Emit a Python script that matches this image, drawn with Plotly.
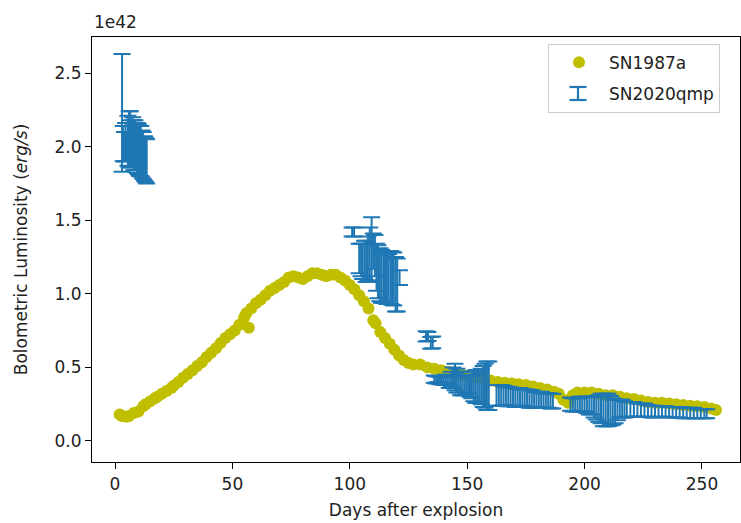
import plotly.graph_objects as go

# SN1987a bolometric light curve (units of 1e42 erg/s)
sn87_days = [2, 3, 5, 6, 8, 10, 12, 13, 15, 17, 18, 20, 22, 24, 25, 27, 29, 31, 33, 35,
             37, 39, 41, 43, 45, 47, 49, 51, 53, 55, 56, 57, 58, 60, 62, 64, 66, 68, 70, 72,
             74, 76, 78, 80, 82, 84, 86, 88, 90, 92, 94, 96, 98, 100, 102, 104, 106, 108, 110, 111,
             113, 115, 117, 119, 121, 123, 125, 127, 130, 133, 136, 139, 142, 145, 148, 151, 154, 157, 160, 163,
             166, 169, 172, 175, 178, 181, 184, 187, 189, 191, 193, 195, 197, 200, 203, 206, 209, 212, 215, 218,
             221, 224, 227, 230, 233, 236, 239, 242, 245, 248, 251, 254, 256]
sn87_lum = [0.18, 0.17, 0.165, 0.17, 0.19, 0.20, 0.235, 0.25, 0.27, 0.29, 0.30, 0.32, 0.34, 0.36, 0.375, 0.40, 0.43, 0.455, 0.48, 0.51,
            0.535, 0.57, 0.60, 0.63, 0.665, 0.70, 0.725, 0.75, 0.79, 0.84, 0.87, 0.77, 0.90, 0.935, 0.96, 0.99, 1.02, 1.04, 1.06, 1.08,
            1.11, 1.12, 1.11, 1.10, 1.12, 1.14, 1.14, 1.13, 1.12, 1.13, 1.13, 1.11, 1.09, 1.06, 1.03, 0.99, 0.95, 0.90, 0.82, 0.80,
            0.74, 0.70, 0.66, 0.62, 0.58, 0.55, 0.53, 0.52, 0.52, 0.50, 0.49, 0.48, 0.47, 0.46, 0.45, 0.44, 0.43, 0.42, 0.41, 0.40,
            0.395, 0.39, 0.385, 0.38, 0.37, 0.36, 0.35, 0.335, 0.32, 0.28, 0.26, 0.31, 0.33, 0.33, 0.33, 0.32, 0.31, 0.31, 0.30, 0.29,
            0.285, 0.275, 0.265, 0.26, 0.26, 0.255, 0.25, 0.245, 0.24, 0.235, 0.23, 0.22, 0.21]

# SN2020qmp bolometric luminosity with errors (units of 1e42 erg/s)
qmp_days = [3.0, 3.5, 4.0, 4.5, 5.0, 5.5, 6.0, 6.5, 7.0, 7.5, 8.0, 8.5, 9.0, 9.5, 10.0, 10.5, 11.0, 11.5, 12.0, 12.5, 13.0, 13.5,
            101.0, 101.8, 104.0, 104.8, 105.5, 106.3, 107.0, 107.7, 108.5, 109.3, 110.0, 110.7, 111.4, 112.0, 112.8,
            113.5, 114.3, 115.0, 115.8, 116.5, 117.3, 118.0, 118.7, 119.5, 120.2, 121.2,
            132.5, 133.3, 134.5, 135.3,
            136.0, 136.8, 137.6, 138.4, 139.2, 140.0, 140.8, 141.6, 142.4, 143.2, 144.0, 144.8, 145.6, 146.4, 147.2,
            148.0, 148.8, 149.6, 150.4, 151.2, 152.0, 152.8, 153.6, 154.4, 155.2, 156.0, 156.8, 157.6, 158.4, 159.2,
            162.5, 163.5, 164.5, 165.5, 166.5, 167.5, 168.5, 169.5, 170.5, 171.5, 172.5, 173.5, 174.5, 175.5, 176.5,
            177.5, 178.5, 179.5, 180.5, 181.5, 182.5, 183.5, 184.5, 185.5, 186.5,
            194.0, 195.0, 196.0, 197.0, 198.0, 199.0, 200.0, 201.0, 202.0, 203.0, 204.0, 205.0, 206.0, 207.0, 208.0,
            209.0, 210.0, 211.0, 212.0, 213.0, 214.0, 215.0, 216.0, 217.0, 218.0, 219.5, 221.0, 222.5, 224.0, 225.5,
            227.0, 228.5, 230.0, 231.5, 233.0, 234.5, 236.0, 237.5, 239.0, 240.5, 242.0, 243.5, 245.0, 246.5, 248.0,
            249.5, 251.0, 252.0]
qmp_lum = [2.23, 2.02, 2.00, 2.03, 2.00, 2.04, 2.05, 2.05, 2.02, 2.03, 2.01, 2.01, 2.00, 1.99, 1.98, 1.97, 1.97, 1.95, 1.94, 1.92, 1.91, 1.90,
           1.42, 1.42, 1.24, 1.23, 1.22, 1.23, 1.22, 1.24, 1.27, 1.30, 1.29, 1.26, 1.18, 1.15, 1.13,
           1.12, 1.11, 1.11, 1.10, 1.10, 1.11, 1.105, 1.10, 1.065, 1.06, 1.11,
           0.71, 0.71, 0.667, 0.67,
           0.42, 0.415, 0.42, 0.41, 0.415, 0.41, 0.42, 0.42, 0.40, 0.42, 0.43, 0.435, 0.41, 0.40, 0.39,
           0.39, 0.38, 0.38, 0.38, 0.37, 0.37, 0.37, 0.37, 0.37, 0.36, 0.37, 0.37, 0.375, 0.375, 0.375,
           0.31, 0.31, 0.31, 0.31, 0.305, 0.30, 0.30, 0.30, 0.295, 0.295, 0.30, 0.295, 0.29, 0.29, 0.285,
           0.285, 0.28, 0.28, 0.28, 0.28, 0.275, 0.275, 0.275, 0.27, 0.27,
           0.25, 0.245, 0.245, 0.245, 0.25, 0.25, 0.25, 0.245, 0.24, 0.24, 0.23, 0.225, 0.22, 0.22, 0.21,
           0.21, 0.21, 0.205, 0.20, 0.20, 0.21, 0.22, 0.22, 0.215, 0.215, 0.215, 0.215, 0.21, 0.21, 0.21,
           0.205, 0.20, 0.20, 0.20, 0.20, 0.20, 0.195, 0.195, 0.195, 0.195, 0.19, 0.19, 0.19, 0.19, 0.185,
           0.185, 0.185, 0.185]
qmp_err = [0.40, 0.12, 0.10, 0.13, 0.10, 0.17, 0.19, 0.19, 0.16, 0.17, 0.17, 0.17, 0.16, 0.17, 0.17, 0.17, 0.17, 0.16, 0.16, 0.15, 0.15, 0.15,
           0.03, 0.03, 0.10, 0.11, 0.12, 0.13, 0.14, 0.15, 0.18, 0.22, 0.12, 0.14, 0.16, 0.18, 0.18,
           0.18, 0.17, 0.17, 0.17, 0.17, 0.18, 0.18, 0.18, 0.185, 0.18, 0.05,
           0.035, 0.03, 0.04, 0.04,
           0.025, 0.025, 0.02, 0.025, 0.025, 0.03, 0.03, 0.03, 0.04, 0.05, 0.07, 0.09, 0.08, 0.07, 0.08,
           0.08, 0.07, 0.06, 0.06, 0.07, 0.08, 0.10, 0.11, 0.112, 0.10, 0.12, 0.14, 0.15, 0.165, 0.165,
           0.07, 0.07, 0.07, 0.065, 0.065, 0.065, 0.065, 0.06, 0.065, 0.06, 0.06, 0.055, 0.06, 0.06, 0.06,
           0.06, 0.055, 0.055, 0.05, 0.055, 0.05, 0.05, 0.05, 0.05, 0.05,
           0.045, 0.045, 0.045, 0.045, 0.05, 0.05, 0.05, 0.055, 0.06, 0.06, 0.07, 0.08, 0.09, 0.10, 0.11,
           0.11, 0.11, 0.10, 0.09, 0.08, 0.07, 0.06, 0.06, 0.055, 0.05, 0.05, 0.05, 0.045, 0.045, 0.045,
           0.04, 0.04, 0.04, 0.035, 0.035, 0.035, 0.035, 0.035, 0.035, 0.035, 0.035, 0.035, 0.035, 0.035, 0.03,
           0.03, 0.03, 0.03]

yticks = [0.0, 0.5, 1.0, 1.5, 2.0, 2.5]
xticks = [0, 50, 100, 150, 200, 250]

YELLOW = "#bfbf00"
BLUE = "#1f77b4"
FONT = "DejaVu Sans"
FS = 17

fig = go.Figure()
fig.add_trace(go.Scatter(
    x=sn87_days, y=sn87_lum, mode="markers", name="SN1987a",
    marker=dict(color=YELLOW, size=12, line=dict(width=0)),
    legendgroup="a"))
fig.add_trace(go.Scatter(
    x=qmp_days, y=qmp_lum, mode="markers", name="SN2020qmp", showlegend=False,
    marker=dict(color=BLUE, size=0.1, opacity=0),
    error_y=dict(type="data", array=qmp_err, visible=True, color=BLUE, thickness=2.0, width=8.5)))
# legend entry; its "I" errorbar icon is drawn with shapes below
fig.add_trace(go.Scatter(
    x=[None], y=[None], mode="markers", name="SN2020qmp",
    marker=dict(color="rgba(0,0,0,0)", symbol="line-ns", size=12, line=dict(color="rgba(0,0,0,0)", width=0)),
    legendgroup="b"))

# plot-area pixel box, for placing the legend icon in paper coords
PL, PR, PT, PB = 92, 740, 37, 462


def px(x):
    return (x - PL) / (PR - PL)


def py(y):
    return (PB - y) / (PB - PT)


icon_x, icon_top, icon_bot, cap = 578, 87, 100, 8.5
icon_line = dict(color=BLUE, width=2.2)
shapes = [
    dict(type="line", xref="paper", yref="paper", x0=px(icon_x), x1=px(icon_x), y0=py(icon_top), y1=py(icon_bot), line=icon_line),
    dict(type="line", xref="paper", yref="paper", x0=px(icon_x - cap), x1=px(icon_x + cap), y0=py(icon_top), y1=py(icon_top), line=icon_line),
    dict(type="line", xref="paper", yref="paper", x0=px(icon_x - cap), x1=px(icon_x + cap), y0=py(icon_bot), y1=py(icon_bot), line=icon_line),
]

axis_common = dict(showline=True, mirror=True, linecolor="black", linewidth=1.2,
                   ticks="outside", ticklen=6, tickwidth=1.2, tickcolor="black",
                   showgrid=False, zeroline=False,
                   tickfont=dict(family=FONT, size=FS, color="#222"))

fig.update_layout(
    width=741, height=523,
    margin=dict(l=92, r=1, t=37, b=61),
    paper_bgcolor="white", plot_bgcolor="white",
    font=dict(family=FONT, size=FS, color="#222"),
    xaxis=dict(range=[-9.8, 266.2], tickvals=xticks, ticktext=[str(v) for v in xticks],
               title=dict(text="Days after explosion", font=dict(family=FONT, size=FS, color="#222"), standoff=11),
               **axis_common),
    yaxis=dict(range=[-0.143, 2.745], tickvals=yticks, ticktext=[f"{v:.1f}" for v in yticks],
               title=dict(text="Bolometric Luminosity (<i>erg/s</i>)", font=dict(family=FONT, size=FS, color="#222"), standoff=22),
               **axis_common),
    legend=dict(x=px(548), y=0.984, xanchor="left", yanchor="top",
                bordercolor="#cccccc", borderwidth=1, bgcolor="rgba(0,0,0,0)",
                font=dict(family=FONT, size=FS, color="#222"), itemwidth=50,
                traceorder="grouped", tracegroupgap=6),
    showlegend=True,
    shapes=shapes,
    annotations=[dict(text="1e42", xref="paper", yref="paper", x=0, y=1, xanchor="left", yanchor="bottom",
                      yshift=3, showarrow=False, font=dict(family=FONT, size=FS, color="#222"))],
)

fig.write_html("out.html")
